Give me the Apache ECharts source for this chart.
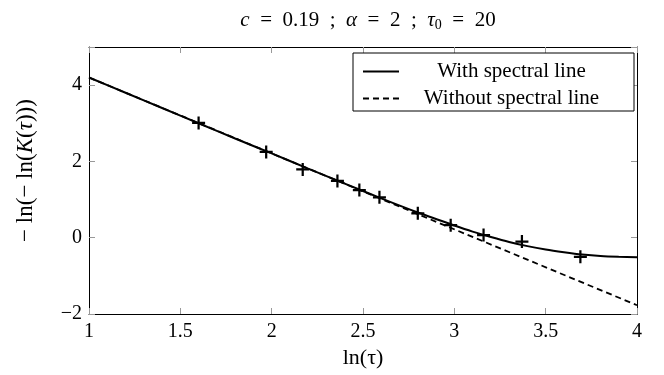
<!DOCTYPE html>
<html><head><meta charset="utf-8">
<script src="https://cdn.jsdelivr.net/npm/echarts@6/dist/echarts.min.js"></script>
<style>html,body{margin:0;padding:0;background:#fff}#c{width:664px;height:375px}</style>
</head><body><div id="c"></div>
<script>
// Data
const solidX = [1.0,1.2,1.4,1.6,1.8,2.0,2.2,2.4,2.6,2.8,3.0,3.1,3.2,3.3,3.4,3.5,3.6,3.7,3.8,3.9,4.0];
const solidY = [4.2,3.8,3.4,3.0,2.6,2.21,1.81,1.42,1.03,0.66,0.32,0.16,0.02,-0.11,-0.22,-0.31,-0.38,-0.44,-0.48,-0.50,-0.51];
const dashedX = [1.0,2.5,4.0];
const dashedY = [4.2,1.215,-1.77];
const markX = [1.60,1.97,2.17,2.36,2.48,2.59,2.80,2.98,3.16,3.37,3.69];
const markY = [3.01,2.25,1.79,1.49,1.25,1.06,0.64,0.33,0.07,-0.10,-0.50];
const seriesNames = ['With spectral line','Without spectral line'];
const xTickInterval = 0.5;
const yTickInterval = 2;

const FONT = 'Liberation Serif';
const zip = (a,b) => a.map((v,i)=>[v,b[i]]);
const tickStyle = {show:true, inside:true, length:6, lineStyle:{color:'#999', width:1}};
const axisLine = {show:true, onZero:false, lineStyle:{color:'#000', width:1}};
const plus = 'path://M5.8,0H8.2V5.8H14V8.2H8.2V14H5.8V8.2H0V5.8H5.8Z';

const chart = echarts.init(document.getElementById('c'));
chart.setOption({
  animation:false,
  backgroundColor:'#fff',
  title:{
    text:'{i|c}  =  0.19  ;  {i|α}  =  2  ;  {i|τ}{s|0}  =  20',
    left:363, textAlign:'center', top:4,
    textStyle:{fontFamily:FONT, fontSize:21, fontWeight:'normal', color:'#000',
      rich:{i:{fontFamily:FONT,fontSize:21,fontStyle:'italic',color:'#000'},
            s:{fontFamily:FONT,fontSize:14,color:'#000',verticalAlign:'bottom',padding:[9,0,0,0]}}}
  },
  grid:{left:89, right:27, top:47, bottom:61},
  legend:{
    show:true, orient:'vertical', left:353, top:53,
    padding:[8,15,2,9], itemGap:6, itemWidth:36, itemHeight:14,
    borderColor:'#000', borderWidth:1, borderRadius:0, backgroundColor:'#fff',
    itemStyle:{opacity:0},
    data:seriesNames,
    formatter: n => '{a|' + n + '}',
    textStyle:{fontFamily:FONT, fontSize:21, color:'#000',
      rich:{a:{fontFamily:FONT, fontSize:21, width:215, align:'center', lineHeight:24, color:'#000'}}}
  },
  xAxis:[{
    type:'value', min:1, max:4, interval:xTickInterval, position:'bottom',
    axisLine, axisTick:tickStyle, splitLine:{show:false},
    axisLabel:{fontFamily:FONT, fontSize:20, color:'#000', margin:8},
    name:'ln(τ)', nameLocation:'middle', nameGap:33,
    nameTextStyle:{fontFamily:FONT, fontSize:22, color:'#000'}
  },{
    type:'value', min:1, max:4, interval:xTickInterval, position:'top',
    axisLine, axisTick:tickStyle, splitLine:{show:false}, axisLabel:{show:false}
  }],
  yAxis:[{
    type:'value', min:-2, max:5, interval:yTickInterval, position:'left',
    axisLine, axisTick:tickStyle, splitLine:{show:false},
    axisLabel:{fontFamily:FONT, fontSize:20, color:'#000', margin:7,
      formatter: v => v === 5 ? '' : String(v).replace('-', '−')},
    name:'− ln(− ln({i|K}({i|τ})))', nameLocation:'middle', nameRotate:90, nameGap:52,
    nameTextStyle:{fontFamily:FONT, fontSize:23, color:'#000', padding:[0,0,0,20],
      rich:{i:{fontFamily:FONT, fontSize:23, fontStyle:'italic', color:'#000'}}}
  },{
    type:'value', min:-2, max:5, interval:yTickInterval, position:'right',
    axisLine, axisTick:tickStyle, splitLine:{show:false}, axisLabel:{show:false}
  }],
  series:[
    {name:seriesNames[1], type:'line', data:zip(dashedX,dashedY), symbol:'none',
     lineStyle:{color:'#000', width:1.8, type:[6,4]}, itemStyle:{color:'#000'}, z:2},
    {name:seriesNames[0], type:'line', data:zip(solidX,solidY), symbol:'none', smooth:0.3,
     lineStyle:{color:'#000', width:2}, itemStyle:{color:'#000'}, z:3},
    {name:'data', type:'scatter', data:zip(markX,markY), symbol:plus, symbolSize:13,
     itemStyle:{color:'#000', opacity:1}, emphasis:{disabled:true}, z:4}
  ]
});
</script></body></html>
